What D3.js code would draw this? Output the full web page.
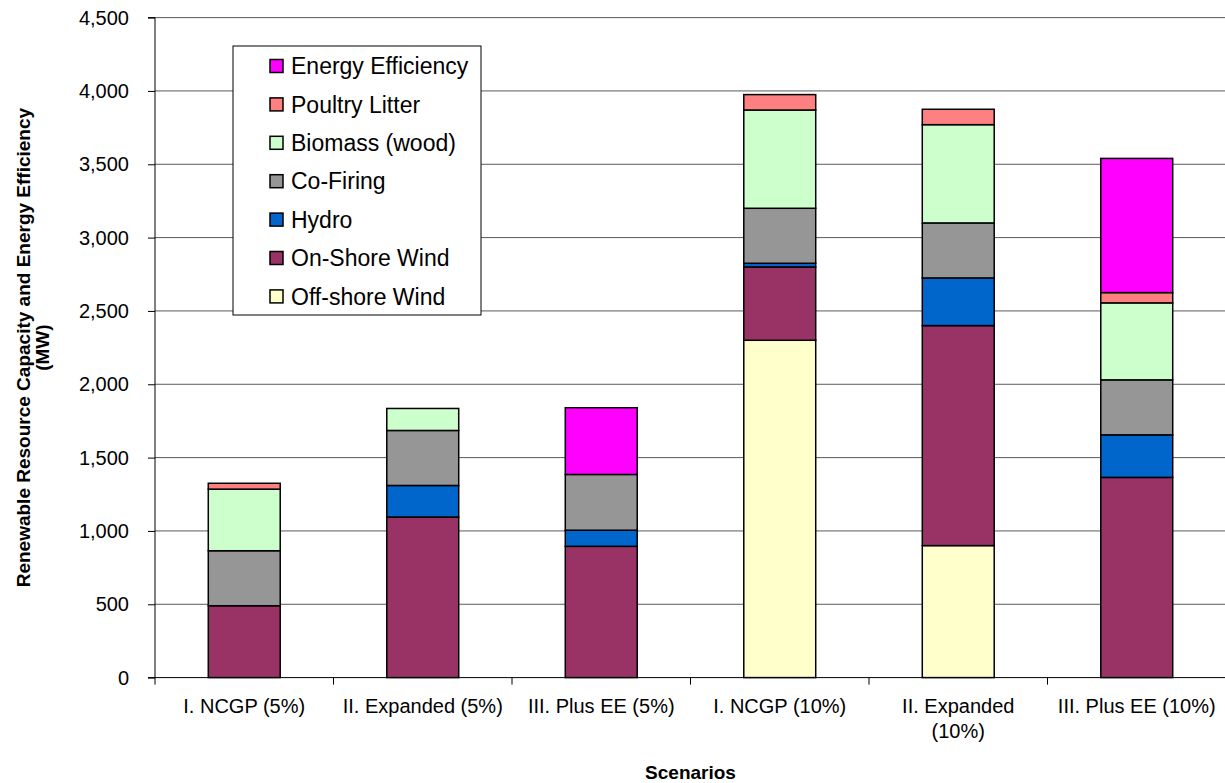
<!DOCTYPE html>
<html>
<head>
<meta charset="utf-8">
<script src="https://cdn.jsdelivr.net/npm/d3@7"></script>
<style>
  html, body { margin: 0; padding: 0; background: #fff; }
  svg { display: block; font-family: "Liberation Sans", Arial, sans-serif; }
</style>
</head>
<body>
<svg id="chart" width="1225" height="783"></svg>
<script>
// ---- data ----
const categories = [
  ["I. NCGP (5%)"],
  ["II. Expanded (5%)"],
  ["III. Plus EE (5%)"],
  ["I. NCGP (10%)"],
  ["II. Expanded", "(10%)"],
  ["III. Plus EE (10%)"]
];
const offshoreWind   = [0, 0, 0, 2300, 900, 0];
const onshoreWind    = [490, 1095, 895, 500, 1500, 1365];
const hydro          = [0, 215, 110, 25, 325, 290];
const coFiring       = [375, 375, 380, 375, 375, 375];
const biomassWood    = [420, 150, 0, 670, 670, 525];
const poultryLitter  = [40, 0, 0, 105, 105, 70];
const energyEff      = [0, 0, 455, 0, 0, 915];
const yTicks = [0, 500, 1000, 1500, 2000, 2500, 3000, 3500, 4000, 4500];

const seriesNames = ["Off-shore Wind", "On-Shore Wind", "Hydro", "Co-Firing", "Biomass (wood)", "Poultry Litter", "Energy Efficiency"];
const seriesValues = [offshoreWind, onshoreWind, hydro, coFiring, biomassWood, poultryLitter, energyEff];
const seriesColors = ["#FFFFCC", "#993366", "#0066CC", "#969696", "#CCFFCC", "#FF8080", "#FF00FF"];

// ---- build table ----
const rows = categories.map((c, i) => {
  const r = { key: c.join(" ") };
  seriesNames.forEach((s, j) => r[s] = seriesValues[j][i]);
  return r;
});

const svg = d3.select("#chart");
const pLeft = 155, pRight = 1226, pTop = 17.6, pBottom = 677.6;

const x = d3.scaleBand()
  .domain(rows.map(r => r.key))
  .range([pLeft, pRight])
  .paddingInner(0.597)
  .paddingOuter(0.2985);

const y = d3.scaleLinear().domain([0, 4500]).range([pBottom, pTop]);

// gridlines
svg.append("g")
  .selectAll("line")
  .data(yTicks.filter(t => t > 0))
  .join("line")
  .attr("x1", pLeft).attr("x2", pRight)
  .attr("y1", d => y(d)).attr("y2", d => y(d))
  .attr("stroke", "#5a5a5a").attr("stroke-width", 1);

// stacked bars
const stack = d3.stack().keys(seriesNames);
const stacked = stack(rows);

svg.append("g")
  .selectAll("g")
  .data(stacked)
  .join("g")
  .attr("fill", (d, i) => seriesColors[i])
  .selectAll("rect")
  .data(d => d.filter(p => p[1] - p[0] > 0))
  .join("rect")
  .attr("x", d => x(d.data.key))
  .attr("width", x.bandwidth())
  .attr("y", d => y(d[1]))
  .attr("height", d => y(d[0]) - y(d[1]))
  .attr("stroke", "#000")
  .attr("stroke-width", 1.5);

// y axis
const yAxis = d3.axisLeft(y)
  .tickValues(yTicks)
  .tickSize(7)
  .tickPadding(19)
  .tickFormat(d3.format(","));
const gy = svg.append("g").attr("transform", `translate(${pLeft},0)`).call(yAxis);
gy.select(".domain").attr("stroke", "#000").attr("d", `M-7,${pTop}H0V${pBottom}H-7`);
gy.selectAll(".tick line").attr("stroke", "#000");
gy.selectAll(".tick text")
  .attr("font-size", 20)
  .attr("font-family", "Liberation Sans, Arial, sans-serif")
  .attr("fill", "#000");

// x axis
const gx = svg.append("g").attr("transform", `translate(0,${pBottom})`);
gx.append("line").attr("x1", pLeft).attr("x2", pRight).attr("y1", 0).attr("y2", 0).attr("stroke", "#000");
const step = x.step();
const boundaries = d3.range(rows.length + 1).map(i => pLeft + i * step);
gx.selectAll("line.tk")
  .data(boundaries)
  .join("line")
  .attr("class", "tk")
  .attr("x1", d => d).attr("x2", d => d)
  .attr("y1", 0).attr("y2", 7)
  .attr("stroke", "#000");

const labels = gx.selectAll("text.cat")
  .data(categories)
  .join("text")
  .attr("class", "cat")
  .attr("text-anchor", "middle")
  .attr("font-size", 20)
  .attr("fill", "#000")
  .attr("transform", (d, i) => `translate(${x(rows[i].key) + x.bandwidth() / 2},0)`);
labels.selectAll("tspan")
  .data(d => d)
  .join("tspan")
  .attr("x", 0)
  .attr("y", (d, i) => 35.5 + i * 24.5)
  .text(d => d);

// axis titles
svg.append("text")
  .attr("x", (pLeft + pRight) / 2)
  .attr("y", 779)
  .attr("text-anchor", "middle")
  .attr("font-size", 19)
  .attr("font-weight", "bold")
  .text("Scenarios");

const yt = svg.append("text")
  .attr("transform", `translate(0,${(pTop + pBottom) / 2}) rotate(-90)`)
  .attr("text-anchor", "middle")
  .attr("font-size", 19)
  .attr("font-weight", "bold");
yt.append("tspan").attr("x", 0).attr("y", 30).text("Renewable Resource Capacity and Energy Efficiency");
yt.append("tspan").attr("x", 0).attr("y", 49).text("(MW)");

// legend
const lg = svg.append("g").attr("transform", "translate(233,46)");
lg.append("rect")
  .attr("x", 0).attr("y", 0).attr("width", 248).attr("height", 269)
  .attr("fill", "#fff").attr("stroke", "#000").attr("stroke-width", 1);
const legendOrder = seriesNames.map((n, i) => ({ name: n, color: seriesColors[i] })).reverse();
const li = lg.selectAll("g.item")
  .data(legendOrder)
  .join("g")
  .attr("class", "item")
  .attr("transform", (d, i) => `translate(37,${20 + i * 38.4})`);
li.append("rect")
  .attr("x", 0).attr("y", -6.5).attr("width", 13).attr("height", 13)
  .attr("fill", d => d.color).attr("stroke", "#000").attr("stroke-width", 1.5);
li.append("text")
  .attr("x", 21).attr("y", 0).attr("dy", "0.36em")
  .attr("font-size", 23)
  .text(d => d.name);
</script>
</body>
</html>
